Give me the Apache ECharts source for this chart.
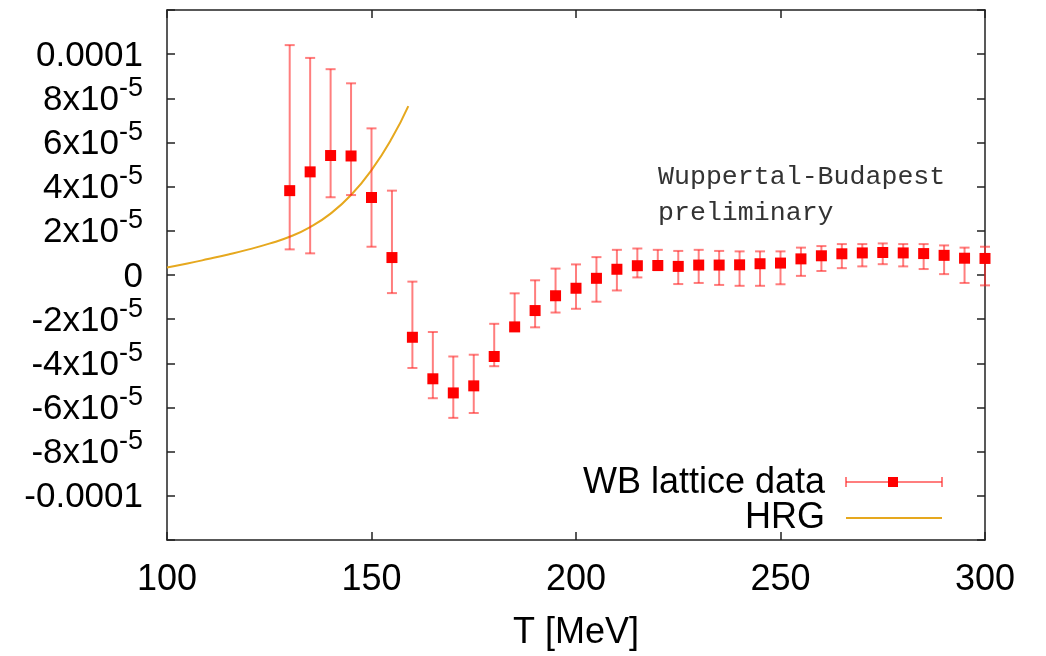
<!DOCTYPE html>
<html><head><meta charset="utf-8">
<script src="https://cdn.jsdelivr.net/npm/echarts@6/dist/echarts.min.js"></script>
<style>html,body{margin:0;padding:0;background:#fff}#c{width:1046px;height:656px}</style>
</head><body><div id="c"></div>
<script>
// Values in units of 1e-5
const temps   = [130,135,140,145,150,155,160,165,170,175,180,185,190,195,200,205,210,215,220,225,230,235,240,245,250,255,260,265,270,275,280,285,290,295,300];
const values  = [3.82,4.67,5.41,5.39,3.51,0.79,-2.82,-4.70,-5.34,-5.02,-3.69,-2.35,-1.61,-0.94,-0.60,-0.15,0.26,0.42,0.43,0.39,0.45,0.45,0.46,0.51,0.54,0.73,0.87,0.96,1.00,1.02,1.00,0.97,0.89,0.76,0.75];
const errLow  = [1.16,0.98,3.52,3.62,1.28,-0.82,-4.21,-5.58,-6.47,-6.25,-4.13,-2.49,-2.37,-1.70,-1.53,-1.21,-0.70,-0.11,0.22,-0.41,-0.36,-0.45,-0.49,-0.49,-0.42,-0.04,0.18,0.31,0.39,0.49,0.39,0.27,0.04,-0.36,-0.47];
const errHigh = [10.41,9.83,9.32,8.68,6.64,3.82,-0.30,-2.58,-3.69,-3.61,-2.21,-0.83,-0.24,0.29,0.48,0.81,1.14,1.20,1.14,1.09,1.14,1.09,1.07,1.07,1.07,1.24,1.31,1.40,1.40,1.43,1.40,1.40,1.34,1.24,1.28];
const hrgT = [100,105,110,115,120,125,130,135,140,145,150,155,159];
const hrgV = [0.34,0.52,0.72,0.93,1.16,1.42,1.73,2.17,2.78,3.62,4.75,6.2,7.65];
const seriesNames = ['WB lattice data','HRG'];
const noteLines = ['Wuppertal-Budapest','preliminary'];
const xTitle = 'T [MeV]';

const ERR = 'rgba(255,40,40,0.6)';
const RED = '#ff0000';
const HRGC = '#e6a81e';
const FONT = 'Liberation Sans';
const FS = 36;
const FSY = 35;

const chart = echarts.init(document.getElementById('c'));
function yFmt(v){
  const r = Math.round(v);
  if (Math.abs(r) > 10) return '';
  if (r === 0) return '{m|0}';
  if (r === 10) return '{m|0.0001}';
  if (r === -10) return '{m|-0.0001}';
  return '{m|' + r + 'x10}{s|-5}';
}
const axisLineStyle = {color:'#222', width:1.5};
const option = {
  animation:false,
  grid:{left:167, right:61, top:10, bottom:111},
  xAxis:[{
    type:'value', min:100, max:300, interval:50, position:'bottom',
    axisLine:{show:true, onZero:false, lineStyle:axisLineStyle},
    axisTick:{show:true, inside:true, length:8, lineStyle:axisLineStyle},
    splitLine:{show:false},
    axisLabel:{color:'#000', fontFamily:FONT, fontSize:FS, margin:22},
    name:xTitle, nameLocation:'middle', nameGap:75,
    nameTextStyle:{color:'#000', fontFamily:FONT, fontSize:FS}
  },{
    type:'value', min:100, max:300, interval:50, position:'top',
    axisLine:{show:true, onZero:false, lineStyle:axisLineStyle},
    axisTick:{show:true, inside:true, length:8, lineStyle:axisLineStyle},
    splitLine:{show:false}, axisLabel:{show:false}
  }],
  yAxis:[{
    type:'value', min:-12, max:12, interval:2, position:'left',
    axisLine:{show:true, onZero:false, lineStyle:axisLineStyle},
    axisTick:{show:true, inside:true, length:8, lineStyle:axisLineStyle},
    splitLine:{show:false},
    axisLabel:{formatter:yFmt, margin:24, color:'#000', fontFamily:FONT,
      rich:{
        m:{fontSize:FSY, fontFamily:FONT, color:'#000', padding:[4,0,0,0]},
        s:{fontSize:27, fontFamily:FONT, color:'#000', padding:[0,0,20,0]}
      }}
  },{
    type:'value', min:-12, max:12, interval:2, position:'right',
    axisLine:{show:true, onZero:false, lineStyle:axisLineStyle},
    axisTick:{show:true, inside:true, length:8, lineStyle:axisLineStyle},
    splitLine:{show:false}, axisLabel:{show:false}
  }],
  series:[
    {
      name:seriesNames[1], type:'line', xAxisIndex:0, yAxisIndex:0,
      data:hrgT.map((t,i)=>[t,hrgV[i]]), smooth:true, showSymbol:false,
      lineStyle:{color:HRGC, width:2}, z:2
    },
    {
      name:seriesNames[0]+' errors', type:'custom', xAxisIndex:0, yAxisIndex:0,
      data:temps.map((t,i)=>[t, errLow[i], errHigh[i]]),
      renderItem:function(params, api){
        const x = api.value(0);
        const p1 = api.coord([x, api.value(1)]);
        const p2 = api.coord([x, api.value(2)]);
        const w = 5;
        const st = {stroke:ERR, lineWidth:2};
        return {type:'group', children:[
          {type:'line', shape:{x1:p1[0],y1:p1[1],x2:p2[0],y2:p2[1]}, style:st},
          {type:'line', shape:{x1:p1[0]-w,y1:p1[1],x2:p1[0]+w,y2:p1[1]}, style:st},
          {type:'line', shape:{x1:p2[0]-w,y1:p2[1],x2:p2[0]+w,y2:p2[1]}, style:st}
        ]};
      }, z:3
    },
    {
      name:seriesNames[0], type:'scatter', xAxisIndex:0, yAxisIndex:0,
      data:temps.map((t,i)=>[t, values[i]]),
      symbol:'rect', symbolSize:11, itemStyle:{color:RED, opacity:1}, z:4
    }
  ],
  graphic:[
    {type:'text', left:658, top:163, style:{text:noteLines[0], font:'26.6px "Liberation Mono"', fill:'#333'}},
    {type:'text', left:658, top:199, style:{text:noteLines[1], font:'26.6px "Liberation Mono"', fill:'#333'}},
    {type:'text', x:825, y:483, style:{text:seriesNames[0], font:FS+'px "Liberation Sans"', fill:'#000', align:'right', verticalAlign:'middle'}},
    {type:'text', x:825, y:518, style:{text:seriesNames[1], font:FS+'px "Liberation Sans"', fill:'#000', align:'right', verticalAlign:'middle'}},
    {type:'line', shape:{x1:846,y1:482,x2:942,y2:482}, style:{stroke:ERR, lineWidth:2}},
    {type:'line', shape:{x1:846,y1:477,x2:846,y2:487}, style:{stroke:ERR, lineWidth:2}},
    {type:'line', shape:{x1:942,y1:477,x2:942,y2:487}, style:{stroke:ERR, lineWidth:2}},
    {type:'rect', shape:{x:888,y:477,width:10,height:10}, style:{fill:RED}},
    {type:'line', shape:{x1:846,y1:518,x2:942,y2:518}, style:{stroke:HRGC, lineWidth:2}}
  ]
};
chart.setOption(option);
</script>
</body></html>
